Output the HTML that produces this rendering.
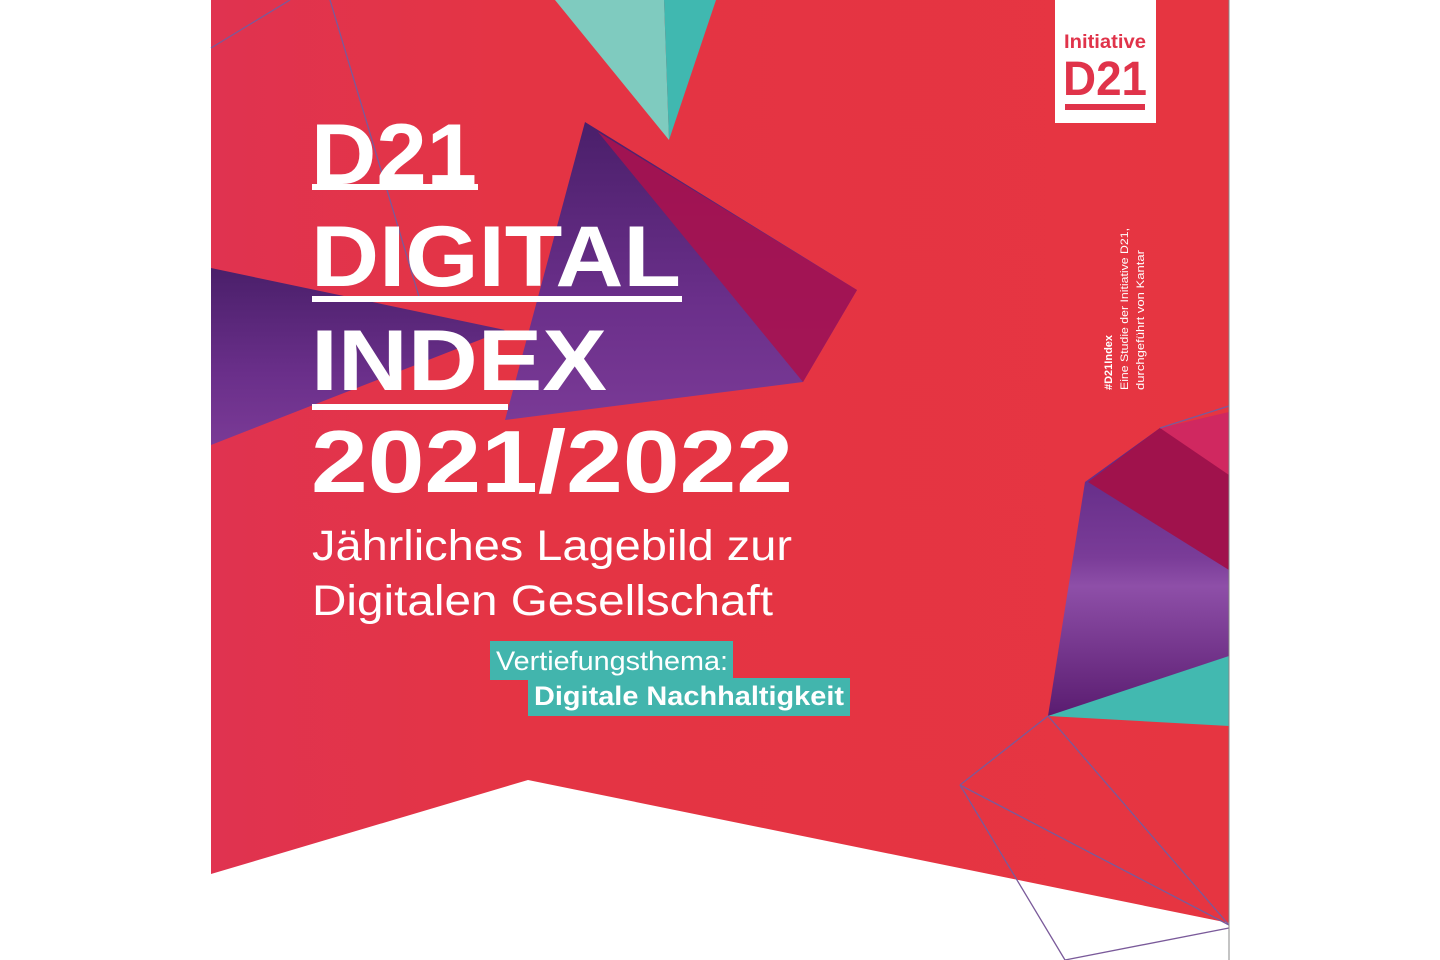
<!DOCTYPE html>
<html><head><meta charset="utf-8"><title>D21 Digital Index 2021/2022</title>
<style>html,body{margin:0;padding:0;background:#fff;width:1440px;height:960px;overflow:hidden}svg{display:block}</style>
</head><body>
<svg width="1440" height="960" viewBox="0 0 1440 960" xmlns="http://www.w3.org/2000/svg">
<defs>
<linearGradient id="bg" x1="0" y1="0" x2="1" y2="0"><stop offset="0" stop-color="#e03350"/><stop offset="0.3" stop-color="#e43444"/><stop offset="1" stop-color="#e63541"/></linearGradient>
<linearGradient id="pur" x1="0" y1="0" x2="0" y2="1"><stop offset="0" stop-color="#4a1f6a"/><stop offset="0.6" stop-color="#6a2f8a"/><stop offset="1" stop-color="#7a3a96"/></linearGradient>
<linearGradient id="pur2" x1="0" y1="0" x2="0" y2="1"><stop offset="0" stop-color="#5a2580"/><stop offset="0.45" stop-color="#7a3c98"/><stop offset="0.55" stop-color="#8e4fa8"/><stop offset="1" stop-color="#5a1c70"/></linearGradient>
</defs>
<rect x="0" y="0" width="1440" height="960" fill="#fff"/>
<polygon points="211,0 1229,0 1229,923 528,780 211,874" fill="url(#bg)"/>
<g>
<polygon points="555,0 664,0 669,140" fill="#7fcbbf"/>
<polygon points="664,0 716,0 669,140" fill="#40b8b0"/>
</g>
<g>
<polygon points="585,122 857,290 803,382 505,420" fill="url(#pur)"/>
<polygon points="598,132 857,290 803,382" fill="#a8124f" opacity="0.9"/>
</g>
<polygon points="211,268 505,330 211,445" fill="url(#pur)"/>
<g>
<polygon points="1085,482 1160,428 1229,440 1229,658 1048,716" fill="url(#pur2)"/>
<polygon points="1088,482 1160,428 1229,470 1229,570" fill="#a0124c"/>
<polygon points="1160,428 1229,412 1229,475" fill="#d02860"/>
</g>
<polygon points="1048,716 1229,656 1229,726" fill="#42b9b0"/>
<g stroke="#7a5a9a" stroke-width="1.3" fill="none">
<line x1="211" y1="48" x2="290" y2="0"/>
<line x1="330" y1="0" x2="420" y2="300"/>
<line x1="960" y1="785" x2="1048" y2="716"/>
<line x1="960" y1="785" x2="1229" y2="925"/>
<line x1="1048" y1="716" x2="1229" y2="925"/>
<line x1="960" y1="785" x2="1065" y2="960"/>
<line x1="1065" y1="960" x2="1229" y2="928"/>
<line x1="1160" y1="428" x2="1229" y2="406"/>
</g>
<line x1="1229" y1="0" x2="1229" y2="960" stroke="#888" stroke-width="1"/>
<g fill="#fff" font-family="Liberation Sans, sans-serif" font-weight="bold">
<text x="311" y="184" font-size="86" textLength="166" lengthAdjust="spacingAndGlyphs">D21</text>
<rect x="312" y="184" width="166" height="6"/>
<text x="311" y="286" font-size="86" textLength="370" lengthAdjust="spacingAndGlyphs">DIGITAL</text>
<rect x="312" y="296" width="370" height="6"/>
<text x="311" y="390" font-size="86" textLength="296" lengthAdjust="spacingAndGlyphs">INDEX</text>
<rect x="312" y="404" width="196" height="6"/>
<text x="311" y="492" font-size="88" textLength="482" lengthAdjust="spacingAndGlyphs">2021/2022</text>
</g>
<g fill="#fff" font-family="Liberation Sans, sans-serif">
<text x="312" y="560" font-size="43" textLength="480" lengthAdjust="spacingAndGlyphs">Jährliches Lagebild zur</text>
<text x="312" y="615" font-size="43" textLength="461" lengthAdjust="spacingAndGlyphs">Digitalen Gesellschaft</text>
</g>
<g font-family="Liberation Sans, sans-serif" fill="#fff">
<rect x="490" y="641" width="243" height="39" fill="#42b5ad"/>
<rect x="528" y="678" width="322" height="38" fill="#42b5ad"/>
<text x="496" y="670" font-size="27" textLength="232" lengthAdjust="spacingAndGlyphs">Vertiefungsthema:</text>
<text x="534" y="705" font-size="27" font-weight="bold" textLength="310" lengthAdjust="spacingAndGlyphs">Digitale Nachhaltigkeit</text>
</g>
<g font-family="Liberation Sans, sans-serif" font-weight="bold" fill="#e0334a">
<rect x="1055" y="0" width="101" height="123" fill="#fff"/>
<text x="1064" y="48" font-size="19" textLength="82" lengthAdjust="spacingAndGlyphs">Initiative</text>
<text x="1063" y="95" font-size="48" textLength="84" lengthAdjust="spacingAndGlyphs">D21</text>
<rect x="1065" y="104" width="80" height="6"/>
</g>
<g font-family="Liberation Sans, sans-serif" fill="#fff" font-size="11">
<text transform="translate(1112,390) rotate(-90)" font-weight="bold">#D21Index</text>
<text transform="translate(1128,390) rotate(-90)" textLength="162" lengthAdjust="spacingAndGlyphs">Eine Studie der Initiative D21,</text>
<text transform="translate(1144,390) rotate(-90)" textLength="140" lengthAdjust="spacingAndGlyphs">durchgeführt von Kantar</text>
</g>
</svg>
</body></html>
